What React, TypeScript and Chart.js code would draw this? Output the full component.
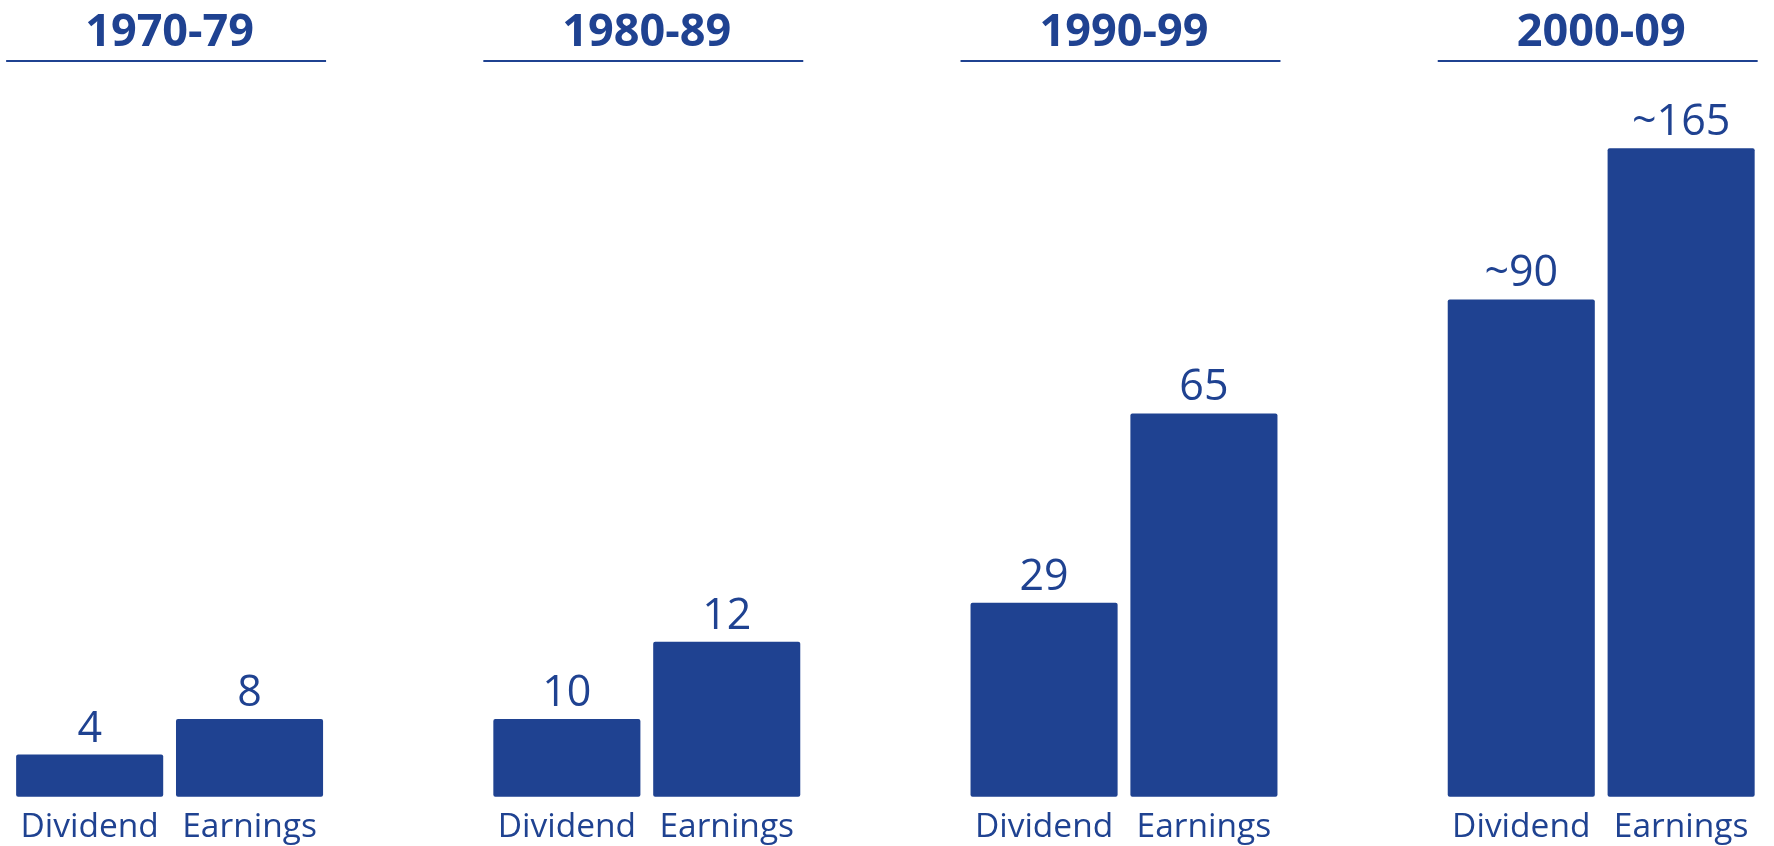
import React, { useEffect, useRef } from "react";
import { Chart, registerables } from "chart.js";

Chart.register(...registerables);

const periods = ["1970-79", "1980-89", "1990-99", "2000-09"];
const seriesNames = ["Dividend", "Earnings"];
const dividendLabels = ["4", "10", "29", "~90"];
const earningsLabels = ["8", "12", "65", "~165"];
// Bars in the original are schematic (not to scale): heights, as % of the tallest bar
const dividendHeights = [6.5, 12.0, 29.9, 76.7];
const earningsHeights = [12.0, 23.9, 59.1, 100];

const BLUE = "#1f4291";
const FONT = "'Open Sans', 'Noto Sans', sans-serif";

const labelPlugin = {
  id: "labelPlugin",
  afterDatasetsDraw(chart: any) {
    const ctx = chart.ctx;
    const area = chart.chartArea;
    const valueLabels = [dividendLabels, earningsLabels];
    ctx.save();
    ctx.fillStyle = BLUE;
    ctx.textAlign = "center";
    ctx.textBaseline = "alphabetic";
    chart.data.datasets.forEach((_ds: any, di: number) => {
      const meta = chart.getDatasetMeta(di);
      meta.data.forEach((el: any, i: number) => {
        ctx.font = `400 43px ${FONT}`;
        ctx.fillText(valueLabels[di][i], el.x, el.y - 13);
        ctx.font = `400 33.5px ${FONT}`;
        ctx.fillText(seriesNames[di], el.x, area.bottom + 40);
      });
    });
    const m0 = chart.getDatasetMeta(0);
    const m1 = chart.getDatasetMeta(1);
    const xScale = chart.scales.x;
    periods.forEach((p: string, i: number) => {
      const cx = xScale.getPixelForValue(i);
      const d = m0.data[i];
      const e = m1.data[i];
      const left = d.x - d.width / 2 - 10;
      const right = e.x + e.width / 2 + 3;
      ctx.font = `700 45px ${FONT}`;
      ctx.fillText(p, cx, 46);
      ctx.strokeStyle = BLUE;
      ctx.lineWidth = 2;
      ctx.beginPath();
      ctx.moveTo(left, 61);
      ctx.lineTo(Math.min(right, chart.width), 61);
      ctx.stroke();
    });
    ctx.restore();
  },
};

export default function App() {
  const canvasRef = useRef<HTMLCanvasElement | null>(null);

  useEffect(() => {
    document.body.style.margin = "0";
    let chart: Chart | null = null;
    let cancelled = false;
    const make = () => {
      if (cancelled || !canvasRef.current) return;
      chart = new Chart(canvasRef.current, {
        type: "bar",
        data: {
          labels: periods,
          datasets: [
            {
              label: seriesNames[0],
              data: dividendHeights,
              backgroundColor: BLUE,
              borderRadius: 2,
              borderSkipped: false,
              clip: false as any,
            },
            {
              label: seriesNames[1],
              data: earningsHeights,
              backgroundColor: BLUE,
              borderRadius: 2,
              borderSkipped: false,
              clip: false as any,
            },
          ],
        },
        options: {
          responsive: false,
          animation: false,
          layout: { padding: { left: 169.6, right: 172.8, top: 148.3, bottom: 49.3 } },
          datasets: { bar: { categoryPercentage: 0.67, barPercentage: 0.92 } },
          plugins: { legend: { display: false }, tooltip: { enabled: false } },
          scales: {
            x: { display: false, offset: false },
            y: { display: false, min: 0, max: 100 },
          },
        },
        plugins: [labelPlugin],
      });
    };
    const fonts = (document as any).fonts;
    if (fonts && fonts.load) {
      Promise.all([
        fonts.load("400 43px 'Open Sans'"),
        fonts.load("700 45px 'Open Sans'"),
      ]).then(make, make);
    } else {
      make();
    }
    return () => {
      cancelled = true;
      if (chart) chart.destroy();
    };
  }, []);

  return (
    <div style={{ width: 1774, height: 846 }}>
      <canvas ref={canvasRef} width={1774} height={846} style={{ display: "block" }} />
    </div>
  );
}
